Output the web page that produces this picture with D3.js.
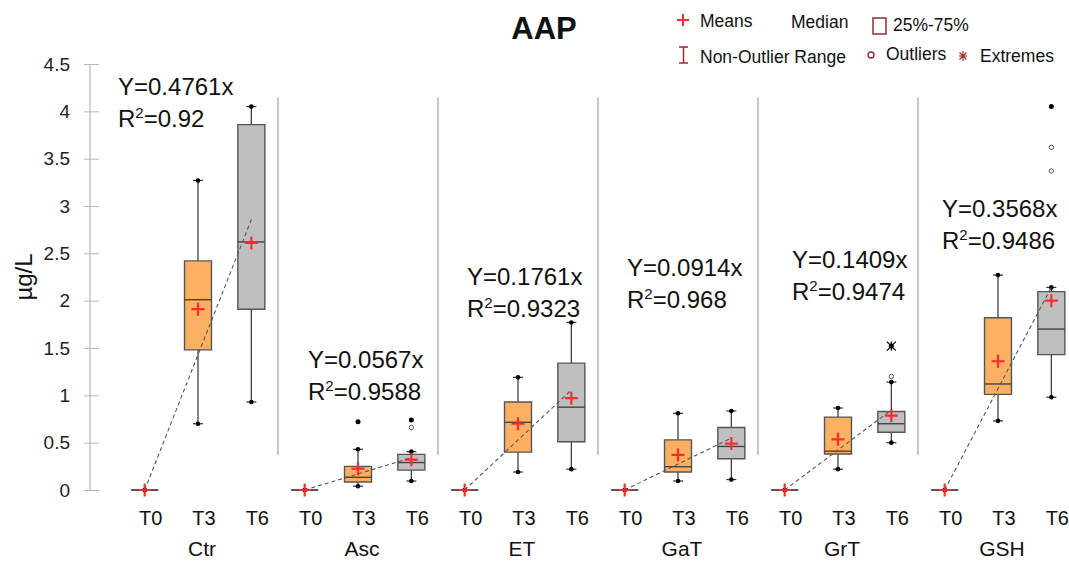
<!DOCTYPE html>
<html>
<head>
<meta charset="utf-8">
<script src="https://cdn.jsdelivr.net/npm/d3@7"></script>
<style>
	body { margin: 0; background: #fff; }
	svg { display: block; font-family: "Liberation Sans", Arial, sans-serif; }
</style>
</head>
<body>
<svg id="chart" width="1069" height="562"></svg>
<script>

var groups = ["Ctr", "Asc", "ET", "GaT", "GrT", "GSH"];
var times = ["T0", "T3", "T6"];
var timeValues = [0, 3, 6];

// regression slope and R2 for each group
var slopes = [0.4761, 0.0567, 0.1761, 0.0914, 0.1409, 0.3568];
var r2 = ["0.92", "0.9588", "0.9323", "0.968", "0.9474", "0.9486"];

// box stats, one row per group, columns T0, T3, T6
var whiskerLow = [[0, 0.70, 0.93], [0, 0.04, 0.095], [0, 0.19, 0.22], [0, 0.095, 0.11], [0, 0.22, 0.50], [0, 0.73, 0.98]];
var q1 = [[0, 1.48, 1.91], [0, 0.085, 0.21], [0, 0.40, 0.51], [0, 0.19, 0.33], [0, 0.38, 0.61], [0, 1.01, 1.43]];
var median = [[0, 2.01, 2.62], [0, 0.134, 0.29], [0, 0.715, 0.875], [0, 0.246, 0.46], [0, 0.41, 0.70], [0, 1.12, 1.70]];
var q3 = [[0, 2.42, 3.86], [0, 0.25, 0.376], [0, 0.93, 1.34], [0, 0.53, 0.66], [0, 0.77, 0.83], [0, 1.82, 2.095]];
var whiskerHigh = [[0, 3.27, 4.05], [0, 0.43, 0.405], [0, 1.19, 1.77], [0, 0.81, 0.835], [0, 0.866, 1.14], [0, 2.27, 2.14]];
var means = [[0, 1.91, 2.61], [0, 0.225, 0.32], [0, 0.70, 0.97], [0, 0.37, 0.49], [0, 0.535, 0.785], [0, 1.36, 2.0]];

var outliers = [
	{g: "Asc", t: "T6", v: 0.66},
	{g: "GrT", t: "T6", v: 1.20},
	{g: "GSH", t: "T6", v: 3.62},
	{g: "GSH", t: "T6", v: 3.37}
];
var extremes = [
	{g: "Asc", t: "T3", v: 0.72},
	{g: "Asc", t: "T6", v: 0.74},
	{g: "GrT", t: "T6", v: 1.52},
	{g: "GSH", t: "T6", v: 4.05}
];

var yTicks = [0, 0.5, 1, 1.5, 2, 2.5, 3, 3.5, 4, 4.5];

// where the equation text sits: offset from group left (px), baseline in y units
var eqPos = [[0, 4.17], [30, 1.29], [29, 2.17], [29, 2.26], [34, 2.35], [24, 2.88]];

var svg = d3.select("#chart");

var y = d3.scaleLinear()
	.domain([0, 4.5])
	.range([490, 64]);

var xg = d3.scaleBand()
	.domain(groups)
	.range([118, 1078]);

var xt = d3.scaleBand()
	.domain(times)
	.range([0, xg.bandwidth()]);

var boxW = 27,
	capW = 10,
	orange = "#fdb062",
	grey = "#bfbfbf",
	darkRed = "#9c2a2a",
	red = "#ff2b2b";

function cx(g, t) {
	return xg(g) + xt(t) + xt.bandwidth() / 2;
}

// title
svg.append("text")
	.attr("x", 544)
	.attr("y", 39)
	.attr("text-anchor", "middle")
	.attr("font-size", "31px")
	.attr("font-weight", "bold")
	.attr("fill", "#111")
	.text("AAP");

// y axis
var yAxis = d3.axisLeft(y)
	.tickValues(yTicks)
	.tickFormat(function(d) { return String(d); })
	.tickSizeInner(15)
	.tickSizeOuter(0)
	.tickPadding(14);

var ag = svg.append("g")
	.attr("transform", "translate(99,0)")
	.call(yAxis);
ag.select(".domain").remove();
ag.selectAll(".tick line").attr("stroke", "#b8b8b8");
ag.selectAll(".tick text")
	.attr("font-size", "19px")
	.attr("fill", "#222")
	.attr("font-family", "Liberation Sans, Arial, sans-serif");

svg.append("line")
	.attr("x1", 90).attr("x2", 90)
	.attr("y1", y(4.5)).attr("y2", y(0))
	.attr("stroke", "#b8b8b8")
	.attr("stroke-width", 1.2);

svg.append("text")
	.attr("transform", "translate(32," + 277 + ") rotate(-90)")
	.attr("text-anchor", "middle")
	.attr("font-size", "24px")
	.attr("fill", "#111")
	.text("µg/L");

// group separators
svg.selectAll(".sep")
	.data(groups.slice(0, groups.length - 1))
	.enter()
	.append("line")
	.attr("class", "sep")
	.attr("x1", function(g) { return xg(g) + xg.step(); })
	.attr("x2", function(g) { return xg(g) + xg.step(); })
	.attr("y1", y(4.15))
	.attr("y2", y(0.37))
	.attr("stroke", "#c6c6c6")
	.attr("stroke-width", 2);

// x labels
groups.forEach(function(g) {
	times.forEach(function(t) {
		svg.append("text")
			.attr("x", cx(g, t) + 6)
			.attr("y", 525)
			.attr("text-anchor", "middle")
			.attr("font-size", "20px")
			.attr("fill", "#111")
			.text(t);
	});
	svg.append("text")
		.attr("x", cx(g, "T3") + 4)
		.attr("y", 556)
		.attr("text-anchor", "middle")
		.attr("font-size", "21px")
		.attr("fill", "#111")
		.text(g);
});

// build table for boxes
var boxes = [];
groups.forEach(function(g, i) {
	times.forEach(function(t, j) {
		boxes.push({
			g: g, t: t, j: j,
			lo: whiskerLow[i][j], q1: q1[i][j], med: median[i][j],
			q3: q3[i][j], hi: whiskerHigh[i][j], mean: means[i][j]
		});
	});
});

var bx = svg.selectAll(".box")
	.data(boxes)
	.enter()
	.append("g")
	.attr("class", "box")
	.attr("transform", function(d) { return "translate(" + cx(d.g, d.t) + ",0)"; });

// whiskers
bx.append("line")
	.attr("x1", 0).attr("x2", 0)
	.attr("y1", function(d) { return y(d.lo); })
	.attr("y2", function(d) { return y(d.hi); })
	.attr("stroke", "#333")
	.attr("stroke-width", 1.2);

bx.selectAll(".cap")
	.data(function(d) { return [d.lo, d.hi]; })
	.enter()
	.append("line")
	.attr("x1", -capW / 2).attr("x2", capW / 2)
	.attr("y1", function(v) { return y(v); })
	.attr("y2", function(v) { return y(v); })
	.attr("stroke", "#333")
	.attr("stroke-width", 1.2);

bx.selectAll(".capdot")
	.data(function(d) { return [d.lo, d.hi]; })
	.enter()
	.append("circle")
	.attr("cx", 0)
	.attr("cy", function(v) { return y(v); })
	.attr("r", 2.3)
	.attr("fill", "#000");

// box
bx.append("path")
	.attr("d", function(d) {
		return "M" + (-boxW / 2) + "," + y(d.q3) + "H" + (boxW / 2) + "V" + y(d.q1) +
			"H" + (-boxW / 2) + "Z";
	})
	.attr("fill", function(d) { return d.j == 2 ? grey : orange; })
	.attr("stroke", "#555")
	.attr("stroke-width", 1.4);

bx.append("line")
	.attr("x1", -boxW / 2).attr("x2", boxW / 2)
	.attr("y1", function(d) { return y(d.med); })
	.attr("y2", function(d) { return y(d.med); })
	.attr("stroke", "#444")
	.attr("stroke-width", 1.4);

// trend lines
groups.forEach(function(g, i) {
	svg.append("line")
		.attr("x1", cx(g, "T0"))
		.attr("y1", y(slopes[i] * timeValues[0]))
		.attr("x2", cx(g, "T6"))
		.attr("y2", y(slopes[i] * timeValues[2]))
		.attr("stroke", "#555")
		.attr("stroke-width", 1.1)
		.attr("stroke-dasharray", "4,3");
});

// means
bx.append("path")
	.attr("d", function(d) {
		var m = y(d.mean);
		return "M-6.5," + m + "H6.5M0," + (m - 6.5) + "V" + (m + 6.5);
	})
	.attr("stroke", red)
	.attr("stroke-width", 2.2);

// outliers and extremes
svg.selectAll(".outlier")
	.data(outliers)
	.enter()
	.append("circle")
	.attr("class", "outlier")
	.attr("cx", function(d) { return cx(d.g, d.t); })
	.attr("cy", function(d) { return y(d.v); })
	.attr("r", 2.2)
	.attr("fill", "none")
	.attr("stroke", "#555")
	.attr("stroke-width", 1);

svg.selectAll(".extreme")
	.data(extremes)
	.enter()
	.append("circle")
	.attr("class", "extreme")
	.attr("cx", function(d) { return cx(d.g, d.t); })
	.attr("cy", function(d) { return y(d.v); })
	.attr("r", 2.5)
	.attr("fill", "#000");

// GrT extreme drawn as asterisk
svg.selectAll(".star")
	.data(extremes.filter(function(d) { return d.g == "GrT"; }))
	.enter()
	.append("path")
	.attr("class", "star")
	.attr("d", function(d) {
		var px = cx(d.g, d.t), py = y(d.v), r = 4.5;
		return "M" + (px - r) + "," + (py - r) + "L" + (px + r) + "," + (py + r) +
			"M" + (px + r) + "," + (py - r) + "L" + (px - r) + "," + (py + r) +
			"M" + px + "," + (py - r) + "V" + (py + r);
	})
	.attr("stroke", "#000")
	.attr("stroke-width", 1.2);

// equations
groups.forEach(function(g, i) {
	var x0 = xg(g) + eqPos[i][0],
		yb = y(eqPos[i][1]);
	svg.append("text")
		.attr("x", x0)
		.attr("y", yb)
		.attr("font-size", "24px")
		.attr("fill", "#111")
		.text("Y=" + slopes[i] + "x");
	var rt = svg.append("text")
		.attr("x", x0)
		.attr("y", yb + 32)
		.attr("font-size", "24px")
		.attr("fill", "#111");
	rt.append("tspan").text("R");
	rt.append("tspan").attr("font-size", "15px").attr("dy", -9).text("2");
	rt.append("tspan").attr("dy", 9).text("=" + r2[i]);
});

// legend
var lg = svg.append("g")
	.attr("font-size", "17.5px")
	.attr("fill", "#111");

lg.append("path")
	.attr("d", "M677,20H689M683,14V26")
	.attr("stroke", red)
	.attr("stroke-width", 2);
lg.append("text").attr("x", 700).attr("y", 27).text("Means");
lg.append("text").attr("x", 791).attr("y", 28).text("Median");
lg.append("rect")
	.attr("x", 873).attr("y", 18)
	.attr("width", 13).attr("height", 16)
	.attr("fill", "none")
	.attr("stroke", darkRed)
	.attr("stroke-width", 1.5);
lg.append("text").attr("x", 893).attr("y", 31).text("25%-75%");

lg.append("path")
	.attr("d", "M679,47H688M683.5,47V63M679,63H688")
	.attr("stroke", darkRed)
	.attr("stroke-width", 1.5);
lg.append("text").attr("x", 700).attr("y", 63).text("Non-Outlier Range");
lg.append("circle")
	.attr("cx", 871).attr("cy", 55).attr("r", 3)
	.attr("fill", "none")
	.attr("stroke", darkRed)
	.attr("stroke-width", 1.4);
lg.append("text").attr("x", 886).attr("y", 60).text("Outliers");
lg.append("path")
	.attr("d", "M959,56H967M963,51V61M959.5,52.5L966.5,59.5M966.5,52.5L959.5,59.5")
	.attr("stroke", darkRed)
	.attr("stroke-width", 1.1);
lg.append("text").attr("x", 980).attr("y", 62).text("Extremes");

</script>
</body>
</html>
